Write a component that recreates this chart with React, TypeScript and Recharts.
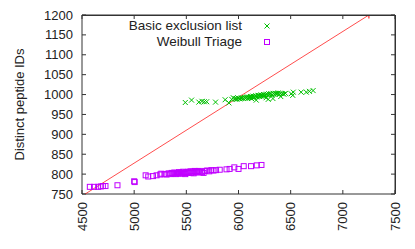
import { ReferenceLine, Scatter, ScatterChart, XAxis, YAxis } from "recharts";

const xTicks = [4500, 5000, 5500, 6000, 6500, 7000, 7500];
const yTicks = [750, 800, 850, 900, 950, 1000, 1050, 1100, 1150, 1200];

// [distinct peptides without triage, distinct peptides with method]
const basicExclusion = [
  [5490, 980], [5550, 986], [5620, 981], [5650, 983], [5672, 982], [5695, 982],
  [5780, 981], [5872, 987], [5908, 979], [5935, 988], [5950, 992], [5962, 989],
  [5975, 990], [5985, 988], [5995, 991], [6005, 990], [6015, 989], [6025, 991],
  [6035, 992], [6045, 990], [6055, 993], [6065, 991], [6075, 992], [6085, 994],
  [6090, 990], [6100, 993], [6110, 992], [6115, 995], [6125, 990], [6130, 994],
  [6140, 996], [6150, 993], [6160, 995], [6165, 997], [6170, 986], [6175, 994],
  [6185, 996], [6190, 998], [6200, 995], [6205, 997], [6215, 999], [6220, 996],
  [6230, 998], [6240, 1000], [6245, 996], [6255, 999], [6265, 992], [6270, 1001],
  [6280, 999], [6285, 988], [6290, 1002], [6300, 1000], [6310, 1002], [6320, 999],
  [6330, 990], [6335, 1003], [6345, 1001], [6355, 1003], [6365, 1002], [6380, 1004],
  [6390, 1000], [6400, 1003], [6405, 995], [6420, 1002], [6435, 1001], [6450, 1003],
  [6505, 1002], [6520, 998], [6525, 1006], [6600, 1006], [6650, 1006], [6680, 1008],
  [6715, 1010],
];

const weibullTriage = [
  [4575, 768], [4615, 768], [4655, 768], [4680, 769], [4700, 770], [4725, 770],
  [4840, 772], [5000, 782], [5005, 780], [5110, 797], [5135, 794], [5180, 795],
  [5215, 797], [5250, 799], [5260, 801], [5290, 800], [5310, 799], [5330, 802],
  [5345, 800], [5360, 803], [5375, 801], [5385, 804], [5400, 800], [5410, 803],
  [5420, 802], [5430, 805], [5440, 801], [5450, 804], [5460, 802], [5470, 806],
  [5480, 803], [5490, 800], [5500, 805], [5510, 803], [5520, 806], [5530, 804],
  [5540, 807], [5550, 803], [5560, 806], [5570, 802], [5580, 808], [5590, 805],
  [5600, 807], [5610, 804], [5620, 808], [5635, 806], [5650, 805], [5665, 803],
  [5680, 808], [5700, 809], [5720, 807], [5740, 810], [5760, 809], [5785, 810],
  [5820, 811], [5885, 812], [5915, 813], [5960, 817], [6000, 813], [6050, 820],
  [6120, 820], [6175, 822], [6220, 823],
];

// y = x * 1200 / 7250, clipped to the plot
const diagonal = [[4531, 750], [7250, 1200]];
const diagonalEnd = [[7250, 1200]];

const toPoints = (rows: number[][]) => rows.map(([x, y]) => ({ x, y }));

const FONT = "'Liberation Sans', Arial, sans-serif";
const INK = "#222";
const FRAME = "#333";

// plot box (gnuplot-style full border with mirrored ticks)
const PLOT_LEFT = 82;
const PLOT_TOP = 15;
const PLOT_RIGHT = 395;
const PLOT_BOTTOM = 194;
const TICK = 4;

const Cross = ({ cx, cy }: any) => (
  <path
    d={`M${cx - 2.5},${cy - 2.5}L${cx + 2.5},${cy + 2.5}M${cx - 2.5},${cy + 2.5}L${cx + 2.5},${cy - 2.5}`}
    stroke="#00c000"
    strokeWidth={1}
  />
);

const Square = ({ cx, cy }: any) => (
  <rect x={cx - 2.5} y={cy - 2.5} width={5} height={5} fill="none" stroke="#c000ff" strokeWidth={1} />
);

const Plus = ({ cx, cy }: any) => (
  <path d={`M${cx - 3.5},${cy}H${cx + 3.5}M${cx},${cy - 3.5}V${cy + 3.5}`} stroke="#ff0000" strokeWidth={1} />
);

const Nothing = () => <g />;

const XTick = ({ x, y, payload }: any) => (
  <g>
    <line x1={x} x2={x} y1={PLOT_TOP} y2={PLOT_TOP + TICK} stroke={FRAME} strokeWidth={1} />
    <text
      x={x}
      y={y}
      transform={`rotate(-90 ${x} ${y})`}
      textAnchor="end"
      dominantBaseline="central"
      fontFamily={FONT}
      fontSize={13}
      fill={INK}
    >
      {payload.value}
    </text>
  </g>
);

const YTick = ({ x, y, payload }: any) => (
  <g>
    <line x1={PLOT_RIGHT - TICK} x2={PLOT_RIGHT} y1={y} y2={y} stroke={FRAME} strokeWidth={1} />
    <text x={x} y={y} textAnchor="end" dominantBaseline="central" fontFamily={FONT} fontSize={13} fill={INK}>
      {payload.value}
    </text>
  </g>
);

const YTitle = ({ viewBox }: any) => {
  const cy = viewBox.y + viewBox.height / 2;
  return (
    <text
      x={19}
      y={cy}
      transform={`rotate(-90 19 ${cy})`}
      textAnchor="middle"
      dominantBaseline="central"
      fontFamily={FONT}
      fontSize={13}
      fill={INK}
    >
      Distinct peptide IDs
    </text>
  );
};

export default function App() {
  return (
    <div style={{ position: "relative", margin: -8, width: 415, height: 249, background: "#fff" }}>
      <ScatterChart
        width={415}
        height={249}
        margin={{ top: PLOT_TOP, right: 415 - PLOT_RIGHT, bottom: 0, left: 0 }}
      >
        <XAxis
          xAxisId="b"
          type="number"
          dataKey="x"
          domain={[4500, 7500]}
          ticks={xTicks}
          interval={0}
          allowDataOverflow
          height={249 - PLOT_BOTTOM}
          tickSize={-TICK}
          tickMargin={12}
          axisLine={{ stroke: FRAME }}
          tickLine={{ stroke: FRAME }}
          tick={<XTick />}
        />
        <YAxis
          yAxisId="l"
          type="number"
          dataKey="y"
          domain={[750, 1200]}
          ticks={yTicks}
          interval={0}
          allowDataOverflow
          width={PLOT_LEFT}
          tickSize={-TICK}
          tickMargin={13}
          axisLine={{ stroke: FRAME }}
          tickLine={{ stroke: FRAME }}
          tick={<YTick />}
          label={<YTitle />}
        />
        <ReferenceLine xAxisId="b" yAxisId="l" y={1200} stroke={FRAME} strokeWidth={1} ifOverflow="visible" />
        <ReferenceLine xAxisId="b" yAxisId="l" x={7500} stroke={FRAME} strokeWidth={1} ifOverflow="visible" />
        <Scatter
          xAxisId="b"
          yAxisId="l"
          data={toPoints(diagonal)}
          line={{ stroke: "#ff0000", strokeWidth: 1, strokeOpacity: 0.7 }}
          lineType="joint"
          shape={<Nothing />}
          isAnimationActive={false}
        />
        <Scatter xAxisId="b" yAxisId="l" data={toPoints(diagonalEnd)} shape={<Plus />} isAnimationActive={false} />
        <Scatter xAxisId="b" yAxisId="l" data={toPoints(basicExclusion)} shape={<Cross />} isAnimationActive={false} />
        <Scatter xAxisId="b" yAxisId="l" data={toPoints(weibullTriage)} shape={<Square />} isAnimationActive={false} />
      </ScatterChart>

      <svg
        style={{ position: "absolute", left: 0, top: 0, pointerEvents: "none" }}
        width={415}
        height={249}
      >
        <path
          d={`M${PLOT_LEFT},${PLOT_TOP + 0.5}H${PLOT_RIGHT + 0.5}V${PLOT_BOTTOM}`}
          fill="none"
          stroke={FRAME}
          strokeWidth={1}
          shapeRendering="crispEdges"
        />
      </svg>

      <div
        style={{
          position: "absolute",
          left: 0,
          top: 18,
          width: 242,
          textAlign: "right",
          fontFamily: FONT,
          fontSize: 13.5,
          lineHeight: "16px",
          color: INK,
        }}
      >
        <div>Basic exclusion list</div>
        <div>Weibull Triage</div>
      </div>
      <svg style={{ position: "absolute", left: 262, top: 18 }} width={10} height={32}>
        <Cross cx={5} cy={8} />
        <Square cx={5} cy={24} />
      </svg>
    </div>
  );
}
